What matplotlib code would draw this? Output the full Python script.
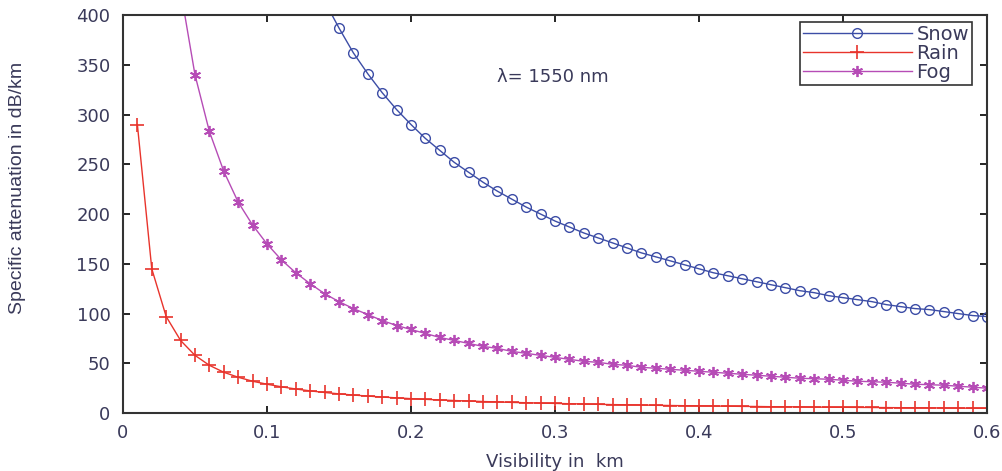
import numpy as np
import matplotlib
matplotlib.use("Agg")
import matplotlib.pyplot as plt

plt.rcParams['font.family'] = ['DejaVu Sans']

# visibility in km, one point every 0.01 km
visibility = np.round(np.arange(1, 61) * 0.01, 2)

snow = [5800, 2900, 1933, 1450, 1160, 967, 829, 725, 644, 580,
        527, 483, 446, 414, 387, 362, 341, 322, 305, 290,
        276, 264, 252, 242, 232, 223, 215, 207, 200, 193,
        187, 181, 176, 171, 166, 161, 157, 153, 149, 145,
        141, 138, 135, 132, 129, 126, 123, 121, 118, 116,
        114, 112, 109, 107, 105, 104, 102, 100, 98, 97]

rain = [290, 145, 97, 73, 58, 48, 41, 36, 32, 29,
        26.4, 24.2, 22.3, 20.7, 19.3, 18.1, 17.1, 16.1, 15.3, 14.5,
        13.8, 13.2, 12.6, 12.1, 11.6, 11.2, 10.7, 10.4, 10.0, 9.7,
        9.4, 9.1, 8.8, 8.5, 8.3, 8.1, 7.8, 7.6, 7.4, 7.3,
        7.1, 6.9, 6.7, 6.6, 6.4, 6.3, 6.2, 6.0, 5.9, 5.8,
        5.7, 5.6, 5.5, 5.4, 5.3, 5.2, 5.1, 5.0, 4.9, 4.8]

fog = [1700, 850, 567, 425, 340, 283, 243, 212, 189, 170,
       154, 141, 130, 120, 112, 105, 99, 93, 88, 84,
       80, 76, 73, 70, 67, 65, 62, 60, 58, 56,
       54, 52, 51, 49, 48, 46, 45, 44, 43, 42,
       41, 40, 39, 38, 37, 36, 35, 34.5, 34, 33,
       32, 31.5, 31, 30, 29, 28.5, 28, 27, 26, 25]

txt = '#3a3a5a'

fig = plt.figure(figsize=(10.03, 4.71), dpi=100)
ax = fig.add_axes([0.1226, 0.123, 0.8615, 0.845])

ax.plot(visibility, snow, color='#3c4da6', marker='o', markersize=7,
        markerfacecolor='none', linewidth=1, label='Snow')
ax.plot(visibility, rain, color='#e8342c', marker='+', markersize=10,
        markeredgewidth=1.2, linewidth=1, label='Rain')
ax.plot(visibility, fog, color='#b64cb6', marker=(6, 2, 0), markersize=8,
        markeredgewidth=1.3, linewidth=1, label='Fog')

ax.set_xlim(0, 0.6)
ax.set_ylim(0, 400)
ax.set_xticks([0, 0.1, 0.2, 0.3, 0.4, 0.5, 0.6])
ax.set_xticklabels(['0', '0.1', '0.2', '0.3', '0.4', '0.5', '0.6'])
ax.set_yticks(range(0, 401, 50))
ax.tick_params(direction='in', top=True, right=True, labelsize=13,
               labelcolor=txt, length=5, width=1.2)
ax.tick_params(axis='y', pad=9)
ax.tick_params(axis='x', pad=8)
for s in ax.spines.values():
    s.set_linewidth(1.5)
    s.set_color('#333333')

ax.set_xlabel('Visibility in  km', fontsize=13, color=txt, labelpad=8)
ax.set_ylabel('Specific attenuation in dB/km', fontsize=14, color=txt,
              family=['Liberation Sans'])
ax.yaxis.set_label_coords(-0.112, 0.565)

ax.text(0.26, 338, 'λ= 1550 nm', fontsize=13, color=txt, va='center')

leg = ax.legend(loc='upper right', bbox_to_anchor=(0.9826, 0.9824),
                borderaxespad=0, fontsize=14, fancybox=False,
                edgecolor='#333333', framealpha=1, handlelength=5.6,
                borderpad=0.15, labelspacing=0.0, handletextpad=0.25)
leg.get_frame().set_linewidth(1.2)
for t in leg.get_texts():
    t.set_color(txt)

fig.savefig('out.png', dpi=100)
